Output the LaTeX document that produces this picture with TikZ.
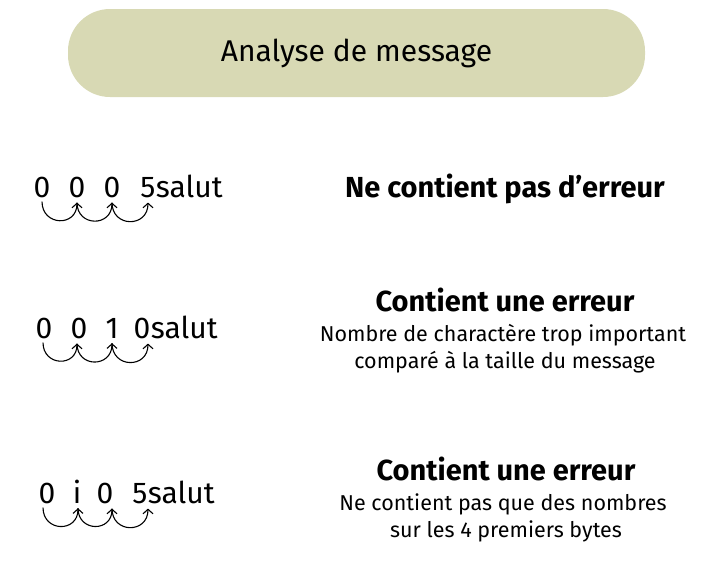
\documentclass[tikz,border=0pt]{standalone}
\usepackage{fontspec}
\setmainfont{Fira Sans}
\usetikzlibrary{arrows.meta}
\definecolor{titlefill}{RGB}{216,217,180}
\begin{document}
\begin{tikzpicture}[x=1pt,y=1pt,
  titlebox/.style={fill=titlefill, rounded corners=42pt, minimum width=577pt, minimum height=88pt, inner sep=0pt, font=\fontsize{30}{36}\selectfont},
  digit/.style={anchor=base, inner sep=0pt, font=\fontsize{30}{36}\selectfont},
  tail/.style={anchor=base west, inner sep=0pt, font=\fontsize{30}{36}\selectfont},
  verdict/.style={anchor=base, inner sep=0pt, font=\bfseries\fontsize{29}{34}\selectfont},
  detail/.style={anchor=base, inner sep=0pt, font=\fontsize{21.5}{26}\selectfont},
  hop/.style={-{Straight Barb[length=4.5pt,width=10pt]}, line width=1.1pt, out=-90, in=-90, looseness=1.8},
]
\useasboundingbox (0,0) rectangle (703,-568);

\node[titlebox] (title) at (356.5,-53) {Analyse de message};

% row 1
\node[digit] (a1) at (42,-197) {0};
\node[digit] (a2) at (77,-197) {0};
\node[digit] (a3) at (112,-197) {0};
\node[digit] (a4) at (148,-197) {5};
\node[tail] (a5) at (a4.base east) {salut};
\draw[hop] ([yshift=-4pt]a1.south) to ([yshift=-5pt]a2.south);
\draw[hop] ([yshift=-5pt]a2.south) to ([yshift=-5pt]a3.south);
\draw[hop] ([yshift=-5pt]a3.south) to ([yshift=-5pt]a4.south);
\node[verdict] (v1) at (505,-197) {Ne contient pas d’erreur};

% row 2
\node[digit] (b1) at (44,-338) {0};
\node[digit] (b2) at (79,-338) {0};
\node[digit] (b3) at (112,-338) {1};
\node[digit] (b4) at (142,-338) {0};
\node[tail] (b5) at (b4.base east) {salut};
\draw[hop] ([xshift=-1pt,yshift=-4pt]b1.south) to ([xshift=-2pt,yshift=-5pt]b2.south);
\draw[hop] ([xshift=-2pt,yshift=-5pt]b2.south) to ([yshift=-5pt]b3.south);
\draw[hop] ([yshift=-5pt]b3.south) to ([xshift=6pt,yshift=-5pt]b4.south);
\node[verdict] (v2) at (505,-311) {Contient une erreur};
\node[detail] (d2a) at (503,-341) {Nombre de charactère trop important};
\node[detail] (d2b) at (505,-368) {comparé à la taille du message};

% row 3
\node[digit] (c1) at (47,-503) {0};
\node[digit] (c2) at (77,-503) {i};
\node[digit] (c3) at (105,-503) {0};
\node[digit] (c4) at (140,-503) {5};
\node[tail] (c5) at (c4.base east) {salut};
\draw[hop] ([xshift=-4pt,yshift=-4pt]c1.south) to ([xshift=1pt,yshift=-5pt]c2.south);
\draw[hop] ([xshift=1pt,yshift=-5pt]c2.south) to ([xshift=7pt,yshift=-5pt]c3.south);
\draw[hop] ([xshift=7pt,yshift=-5pt]c3.south) to ([xshift=8pt,yshift=-5pt]c4.south);
\node[verdict] (v3) at (506,-480) {Contient une erreur};
\node[detail] (d3a) at (503,-510) {Ne contient pas que des nombres};
\node[detail] (d3b) at (506,-537) {sur les 4 premiers bytes};
\end{tikzpicture}
\end{document}
